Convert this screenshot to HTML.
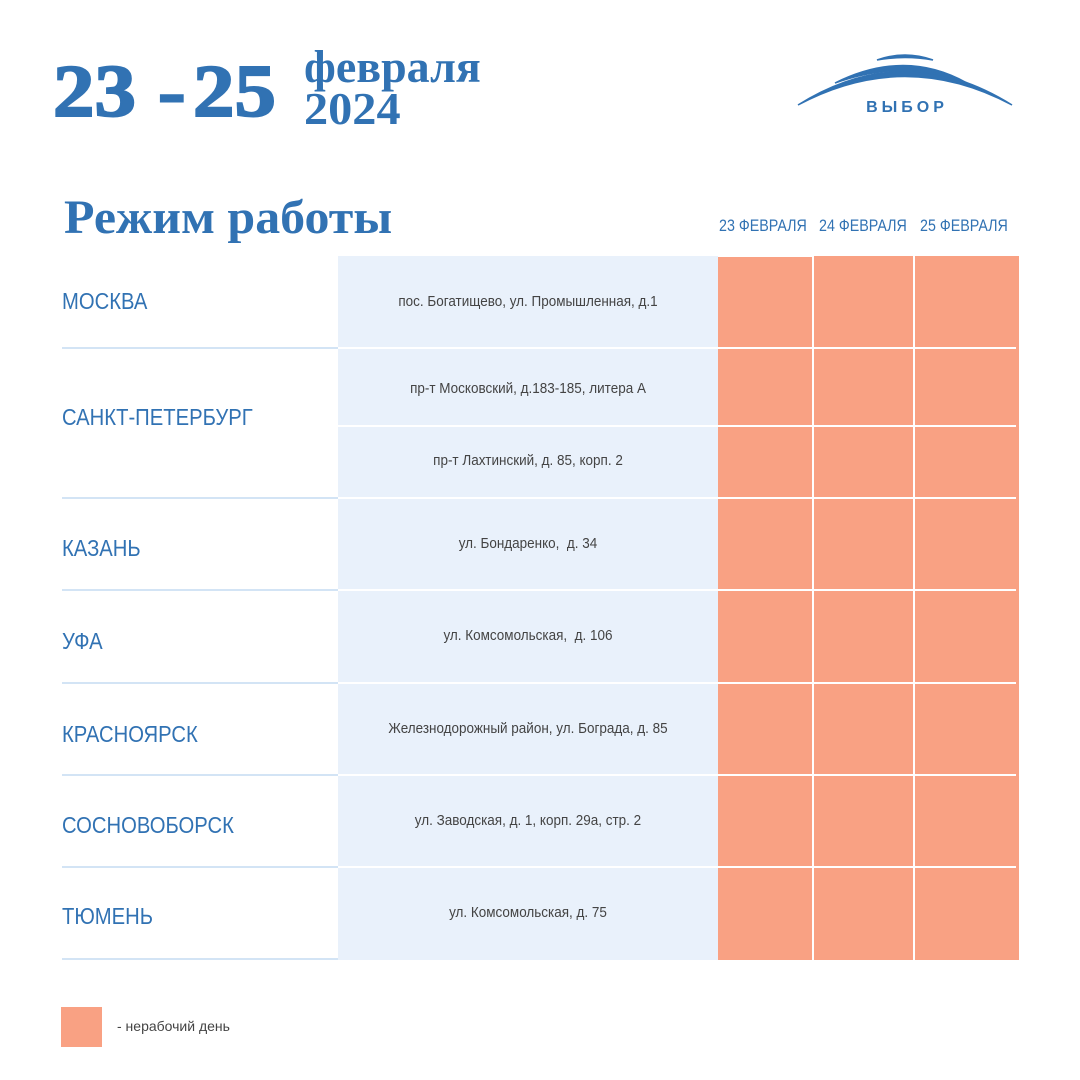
<!DOCTYPE html>
<html><head><meta charset="utf-8"><style>
body{margin:0;width:1080px;height:1080px;background:#fff;position:relative;overflow:hidden;font-family:"Liberation Sans",sans-serif}
.a{position:absolute;white-space:nowrap}
.ser{font-family:"Liberation Serif",serif;font-weight:bold;color:#3172b3}
.big{font-size:74px;-webkit-text-stroke:2px #3172b3;transform:scaleX(1.12);transform-origin:left;top:50px}
.city{position:absolute;left:62px;color:#3172b3;font-size:23px;transform:scaleX(.88);transform-origin:left}
.addr{position:absolute;left:338px;width:380px;text-align:center;color:#444;font-size:14.5px;transform:scaleX(.93)}
.hl{position:absolute;left:62px;width:276px;height:2px;background:#d3e4f5}
.wl{position:absolute;left:718px;width:298px;height:2px;background:#fff}
.wl2{position:absolute;left:338px;width:380px;height:2px;background:#fff}
.d{position:absolute;top:216px;font-size:17px;color:#3172b3;transform:scaleX(.84);transform-origin:left}
</style></head><body>
<div class="a ser big" style="left:53px">23</div>
<div class="a ser big" style="left:158px">-</div>
<div class="a ser big" style="left:193px">25</div>
<div class="a ser" style="left:304px;top:40px;font-size:46px">февраля</div>
<div class="a ser" style="left:304px;top:82px;font-size:46px;transform:scaleX(1.05);transform-origin:left">2024</div>
<svg class="a" style="left:795px;top:50px" width="222" height="70">
<path d="M3 55 Q110 -12 217 55 Q110 -2 3 55Z" fill="#3172b3" stroke="#3172b3" stroke-width="1.5"/>
<path d="M40 33 Q110 -2 172 33 Q110 8 40 33Z" fill="#3172b3" stroke="#3172b3" stroke-width="1.5"/>
<path d="M82 10 Q110 0 138 10 Q110 5 82 10Z" fill="#3172b3" stroke="#3172b3" stroke-width="1.5"/>
<text x="112" y="62" text-anchor="middle" font-family="Liberation Sans" font-weight="bold" font-size="16" fill="#3172b3" letter-spacing="4">ВЫБОР</text>
</svg>
<div class="a ser" style="left:64px;top:190px;font-size:48px;transform:scaleX(1.04);transform-origin:left">Режим работы</div>
<div class="d" style="left:719px">23 ФЕВРАЛЯ</div>
<div class="d" style="left:819px">24 ФЕВРАЛЯ</div>
<div class="d" style="left:920px">25 ФЕВРАЛЯ</div>
<div class="a" style="left:338px;top:256px;width:380px;height:704px;background:#e9f1fb"></div>
<div class="a" style="left:718px;top:256px;width:301px;height:704px;background:#f9a183"></div>
<div class="a" style="left:812px;top:256px;width:2px;height:704px;background:#fff"></div>
<div class="a" style="left:913px;top:256px;width:2px;height:704px;background:#fff"></div>
<div class="a" style="left:718px;top:256px;width:95px;height:1px;background:#fff"></div>
<div class="hl" style="top:347px"></div><div class="wl" style="top:347px"></div><div class="wl2" style="top:347px"></div>
<div class="wl" style="top:425px"></div><div class="wl2" style="top:425px"></div>
<div class="hl" style="top:497px"></div><div class="wl" style="top:497px"></div><div class="wl2" style="top:497px"></div>
<div class="hl" style="top:589px"></div><div class="wl" style="top:589px"></div><div class="wl2" style="top:589px"></div>
<div class="hl" style="top:682px"></div><div class="wl" style="top:682px"></div><div class="wl2" style="top:682px"></div>
<div class="hl" style="top:774px"></div><div class="wl" style="top:774px"></div><div class="wl2" style="top:774px"></div>
<div class="hl" style="top:866px"></div><div class="wl" style="top:866px"></div><div class="wl2" style="top:866px"></div>
<div class="hl" style="top:958px"></div>
<div class="city" style="top:288px">МОСКВА</div>
<div class="city" style="top:404px">САНКТ-ПЕТЕРБУРГ</div>
<div class="city" style="top:535px">КАЗАНЬ</div>
<div class="city" style="top:628px">УФА</div>
<div class="city" style="top:721px">КРАСНОЯРСК</div>
<div class="city" style="top:812px">СОСНОВОБОРСК</div>
<div class="city" style="top:903px">ТЮМЕНЬ</div>
<div class="addr" style="top:294px">пос. Богатищево, ул. Промышленная, д.1</div>
<div class="addr" style="top:381px">пр-т Московский, д.183-185, литера А</div>
<div class="addr" style="top:453px">пр-т Лахтинский, д. 85, корп. 2</div>
<div class="addr" style="top:536px">ул. Бондаренко,&nbsp; д. 34</div>
<div class="addr" style="top:628px">ул. Комсомольская,&nbsp; д. 106</div>
<div class="addr" style="top:721px">Железнодорожный район, ул. Бограда, д. 85</div>
<div class="addr" style="top:813px">ул. Заводская, д. 1, корп. 29а, стр. 2</div>
<div class="addr" style="top:905px">ул. Комсомольская, д. 75</div>
<div class="a" style="left:61px;top:1007px;width:41px;height:40px;background:#f9a183"></div>
<div class="a" style="left:117px;top:1018px;font-size:14px;color:#444">- нерабочий день</div>
</body></html>
